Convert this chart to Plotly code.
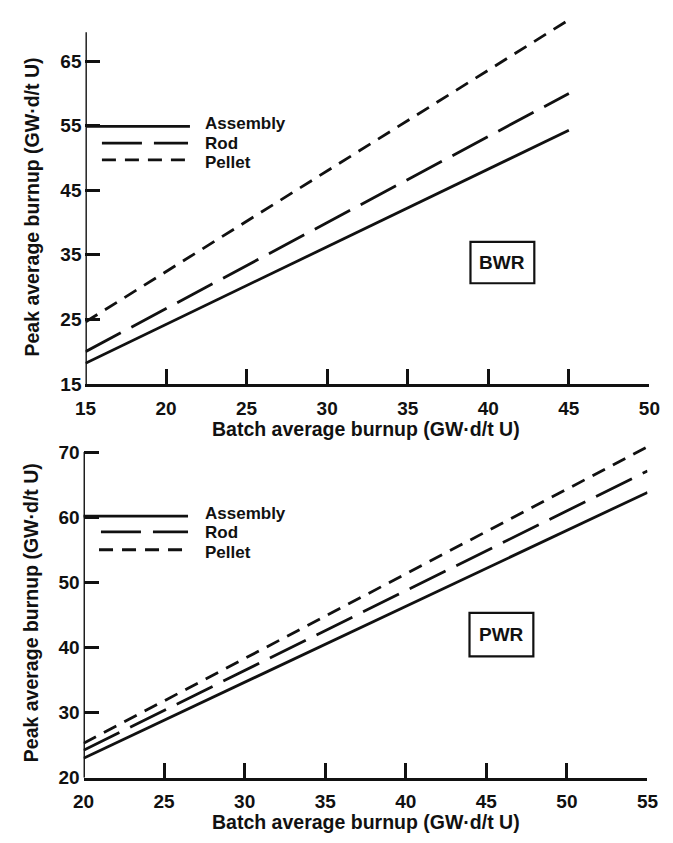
import plotly.graph_objects as go

# ---------------- data ----------------
batch_bwr = [15, 45]
bwr_assembly = [18.2, 54.3]
bwr_rod = [20.0, 60.0]
bwr_pellet = [24.6, 71.4]

batch_pwr = [20, 55]
pwr_assembly = [23.0, 63.8]
pwr_rod = [24.2, 67.1]
pwr_pellet = [25.3, 70.8]

bwr_xticks = [15, 20, 25, 30, 35, 40, 45, 50]
bwr_yticks = [15, 25, 35, 45, 55, 65]
pwr_xticks = [20, 25, 30, 35, 40, 45, 50, 55]
pwr_yticks = [20, 30, 40, 50, 60, 70]

series_names = ["Assembly", "Rod", "Pellet"]
x_title = "Batch average burnup (GW·d/t U)"
y_title = "Peak average burnup (GW·d/t U)"

W, H = 673, 843
def px(x):
    return x / W
def py(y):
    return 1 - y / H

FONT = "Liberation Sans, Arial, sans-serif"
INK = "#111111"
LW = 2.8
dashes = ["solid", "40px,12px", "14px,9px"]

fig = go.Figure()

# top (BWR) traces
for name, ys, d in zip(series_names, [bwr_assembly, bwr_rod, bwr_pellet], dashes):
    fig.add_trace(go.Scatter(x=batch_bwr, y=ys, mode="lines", name=name,
                             line=dict(color=INK, width=LW, dash=d),
                             xaxis="x", yaxis="y", showlegend=False))
# bottom (PWR) traces
for name, ys, d in zip(series_names, [pwr_assembly, pwr_rod, pwr_pellet], dashes):
    fig.add_trace(go.Scatter(x=batch_pwr, y=ys, mode="lines", name=name,
                             line=dict(color=INK, width=LW, dash=d),
                             xaxis="x2", yaxis="y2", showlegend=False))

tickfont = dict(family=FONT, size=19, color=INK, weight="bold")
common_x = dict(showline=True, linecolor=INK, linewidth=2.8, ticks="inside",
                ticklen=15, tickwidth=2.5, tickcolor=INK, showgrid=False,
                zeroline=False, tickfont=tickfont, ticklabelstandoff=5)
common_y = dict(showline=False, ticks="inside", ticklen=15, tickwidth=2.5,
                tickcolor=INK, showgrid=False, zeroline=False, tickfont=tickfont,
                ticklabelstandoff=3)

fig.update_layout(
    width=W, height=H,
    margin=dict(l=0, r=0, t=0, b=0),
    paper_bgcolor="white", plot_bgcolor="white",
    xaxis=dict(domain=[px(77), px(660)], range=[15, 50], tickvals=bwr_xticks,
               anchor="y", **common_x),
    yaxis=dict(domain=[py(389), py(16.2)], range=[15, 72], tickvals=bwr_yticks,
               anchor="x", **common_y),
    xaxis2=dict(domain=[px(75), px(658)], range=[20, 55], tickvals=pwr_xticks,
                anchor="y2", **common_x),
    yaxis2=dict(domain=[py(788), py(448.1)], range=[20, 71.5], tickvals=pwr_yticks,
                anchor="x2", **common_y),
)

shapes = []
# y-axis lines (stop at the top like the original)
shapes.append(dict(type="line", xref="x", yref="y", x0=15, x1=15, y0=15, y1=69.5,
                   line=dict(color=INK, width=2.8)))
shapes.append(dict(type="line", xref="x2", yref="y2", x0=20, x1=20, y0=20, y1=70,
                   line=dict(color=INK, width=2.8)))

# legend samples (layout decoration, pixel positions): x start, x end, line y, text y
legend_top = [(78, 185, 128, 125.5), (94, 183, 145, 145), (94, 183, 162, 164.5)]
legend_bot = [(75, 183, 523, 520.5), (93, 183, 539, 540), (91, 182, 557, 559.5)]
for rows in (legend_top, legend_bot):
    for (xa, xb, yy, ty), d in zip(rows, dashes):
        shapes.append(dict(type="line", xref="paper", yref="paper",
                           x0=px(xa), x1=px(xb), y0=py(yy), y1=py(yy),
                           line=dict(color=INK, width=LW, dash=d)))

# boxes around BWR / PWR
shapes.append(dict(type="rect", xref="paper", yref="paper",
                   x0=px(475), x1=px(541), y0=py(287), y1=py(245),
                   line=dict(color=INK, width=2.2)))
shapes.append(dict(type="rect", xref="paper", yref="paper",
                   x0=px(474), x1=px(540), y0=py(665), y1=py(621),
                   line=dict(color=INK, width=2.2)))

fig.update_layout(shapes=shapes)

leg = dict(family=FONT, size=17, color=INK, weight="bold")
box = dict(family=FONT, size=19, color=INK, weight="bold")
ttl = dict(family=FONT, size=19.5, color=INK, weight="bold")
ann = []
for rows in (legend_top, legend_bot):
    for (xa, xb, yy, ty), n in zip(rows, series_names):
        ann.append(dict(xref="paper", yref="paper", x=px(198), y=py(ty), text=n,
                        showarrow=False, xanchor="left", yanchor="middle", font=leg))
ann.append(dict(xref="paper", yref="paper", x=px(508), y=py(266), text="BWR",
                showarrow=False, xanchor="center", yanchor="middle", font=box))
ann.append(dict(xref="paper", yref="paper", x=px(507), y=py(643), text="PWR",
                showarrow=False, xanchor="center", yanchor="middle", font=box))
# axis titles
ann.append(dict(xref="paper", yref="paper", x=px(367), y=py(435), text=x_title,
                showarrow=False, xanchor="center", yanchor="middle", font=ttl))
ann.append(dict(xref="paper", yref="paper", x=px(367), y=py(833), text=x_title,
                showarrow=False, xanchor="center", yanchor="middle", font=ttl))
ann.append(dict(xref="paper", yref="paper", x=px(22), y=py(210), text=y_title,
                textangle=-90, showarrow=False, xanchor="center", yanchor="middle", font=ttl))
ann.append(dict(xref="paper", yref="paper", x=px(21), y=py(621), text=y_title,
                textangle=-90, showarrow=False, xanchor="center", yanchor="middle", font=ttl))
fig.update_layout(annotations=ann)

fig.write_html("out.html")
